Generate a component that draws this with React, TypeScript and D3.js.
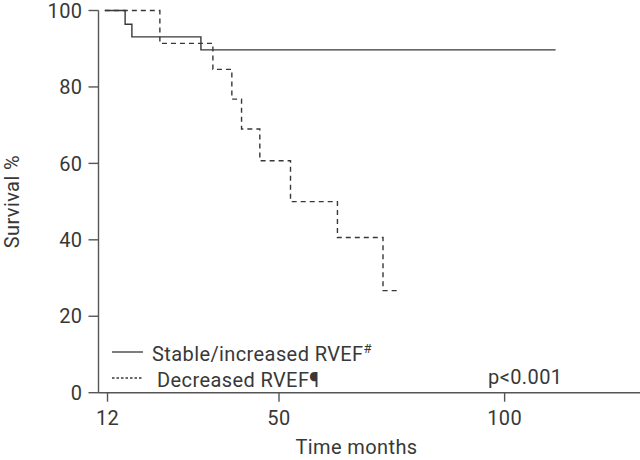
import React from "react";
import * as d3 from "d3";

const xTicks = [12, 50, 100];
const yTicks = [0, 20, 40, 60, 80, 100];

const stableTimes = [11.4, 15.9, 17.4, 32.7, 111.3];
const stableSurvival = [100, 96.4, 93.1, 89.7, 89.7];

const decreasedTimes = [11.4, 23.6, 35.35, 39.55, 41.7, 45.75, 52.55, 62.95, 73.05, 76.15];
const decreasedSurvival = [100, 91.4, 84.6, 76.8, 69.0, 60.7, 50.0, 40.6, 26.7, 26.7];

const legendLabels = ["Stable/increased RVEF", "Decreased RVEF¶"];
const pText = "p<0.001";
const xTitle = "Time months";
const yTitle = "Survival %";

const W = 640;
const H = 460;
const FONT = "Roboto, 'Noto Sans', sans-serif";
const INK = "#383838";
const AXIS = "#555";
const FS = 20;
const LS = "0.4px";

export default function App() {
  const x = d3.scaleLinear().domain([10, 130]).range([98.5, 640]);
  const y = d3.scaleLinear().domain([0, 100]).range([392.7, 10.5]);

  const line = d3
    .line<[number, number]>()
    .x((d) => x(d[0]))
    .y((d) => y(d[1]))
    .curve(d3.curveStepAfter);

  const stable: [number, number][] = stableTimes.map((t, i) => [t, stableSurvival[i]]);
  const decreased: [number, number][] = decreasedTimes.map((t, i) => [t, decreasedSurvival[i]]);

  const x0 = x(10);
  const y0 = y(0);

  return (
    <svg
      width={W}
      height={H}
      style={{ position: "absolute", left: 0, top: 0, background: "#fff" }}
      fontFamily={FONT}
      letterSpacing={LS}
    >
      {/* axes */}
      <line x1={x0} x2={W} y1={y0} y2={y0} stroke={AXIS} strokeWidth={1.4} />
      <line x1={x0} x2={x0} y1={y(100)} y2={y0} stroke={AXIS} strokeWidth={1.4} />
      {yTicks.map((t) => (
        <g key={"y" + t}>
          <line x1={x0 - 10} x2={x0} y1={y(t)} y2={y(t)} stroke={AXIS} strokeWidth={1.4} />
          <text x={x0 - 16} y={y(t)} dy="0.36em" textAnchor="end" fontSize={FS} fill={INK}>
            {t}
          </text>
        </g>
      ))}
      {xTicks.map((t) => (
        <g key={"x" + t}>
          <line x1={x(t)} x2={x(t)} y1={y0} y2={y0 + 9} stroke={AXIS} strokeWidth={1.4} />
          <text x={x(t)} y={425} textAnchor="middle" fontSize={FS} fill={INK}>
            {t}
          </text>
        </g>
      ))}
      <text x={356.5} y={454} textAnchor="middle" fontSize={FS} fill={INK}>
        {xTitle}
      </text>
      <text
        transform={`translate(19, ${(y(0) + y(100)) / 2}) rotate(-90)`}
        textAnchor="middle"
        fontSize={FS}
        fill={INK}
      >
        {yTitle}
      </text>

      {/* curves */}
      <path d={line(stable) || ""} fill="none" stroke={INK} strokeWidth={1.4} />
      <path d={line(decreased) || ""} fill="none" stroke={INK} strokeWidth={1.4} strokeDasharray="5,4" />

      {/* legend */}
      <line x1={112} x2={143} y1={352} y2={352} stroke={INK} strokeWidth={1.3} />
      <text x={152} y={361} fontSize={FS} fill={INK}>
        {legendLabels[0]}
        <tspan fontSize={13} dy={-8}>#</tspan>
      </text>
      <line x1={112} x2={143} y1={378} y2={378} stroke={INK} strokeWidth={1.3} strokeDasharray="2.5,2" />
      <text x={157} y={387} fontSize={FS} fill={INK}>
        {legendLabels[1]}
      </text>

      <text x={488} y={384} fontSize={FS} fill={INK}>
        {pText}
      </text>
    </svg>
  );
}
